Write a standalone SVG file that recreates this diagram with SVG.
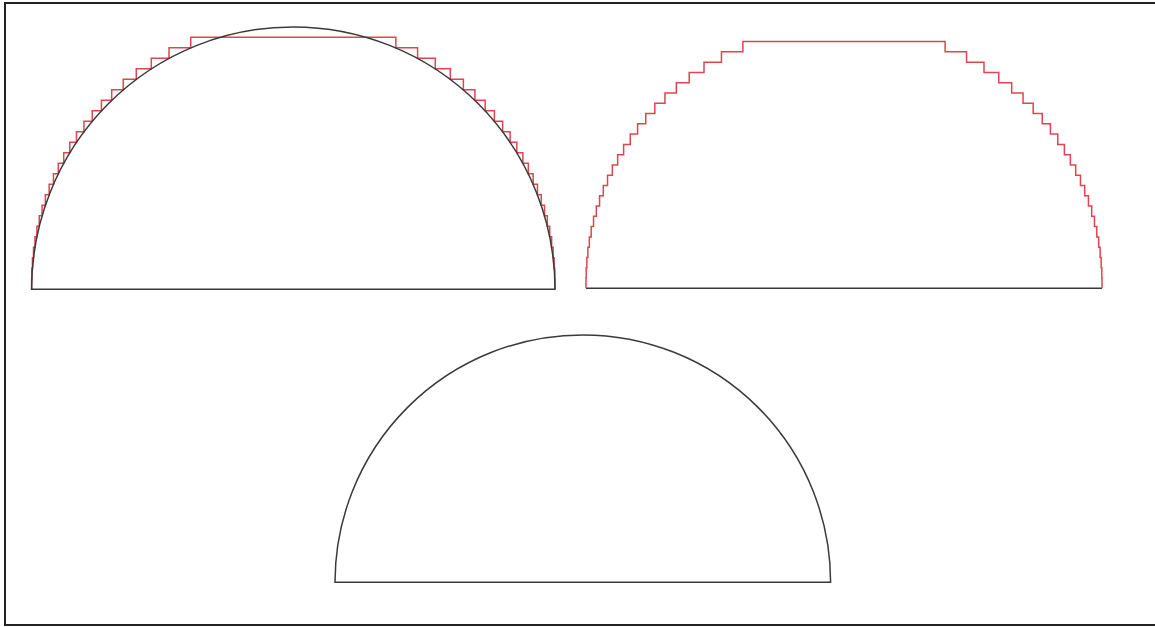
<svg xmlns="http://www.w3.org/2000/svg" width="1155" height="627" viewBox="0 0 1155 627">
  <style>
    .frame { fill: none; stroke: #222; stroke-width: 2; }
    .arc { fill: none; stroke: #3a3a3a; stroke-width: 1.5; }
    .stair { fill: none; stroke: #e0454f; stroke-width: 1.5; }
  </style>
  <rect x="0" y="0" width="1155" height="627" fill="#ffffff"/>
  <g id="frame">
    <path class="frame" d="M5,626 V3 H1155"/>
    <path class="frame" d="M5,625 H1155" stroke="#555" stroke-width="1.5"/>
  </g>
  <g id="top-left">
    <path class="stair" d="M31.6,289.3 V278.8 H31.81 V268.3 H32.44 V257.8 H33.49 V247.3 H34.97 V236.8 H36.89 V226.3 H39.25 V215.8 H42.07 V205.3 H45.36 V194.8 H49.15 V184.3 H53.45 V173.8 H58.29 V163.3 H63.72 V152.8 H69.76 V142.3 H76.48 V131.8 H83.94 V121.3 H92.22 V110.8 H101.42 V100.3 H111.69 V89.8 H123.22 V79.3 H136.28 V68.8 H151.3 V58.3 H169 V47.8 H190.73 V37.3 H395.87 V47.8 H417.6 V58.3 H435.3 V68.8 H450.32 V79.3 H463.38 V89.8 H474.91 V100.3 H485.18 V110.8 H494.38 V121.3 H502.66 V131.8 H510.12 V142.3 H516.84 V152.8 H522.88 V163.3 H528.31 V173.8 H533.15 V184.3 H537.45 V194.8 H541.24 V205.3 H544.53 V215.8 H547.35 V226.3 H549.71 V236.8 H551.63 V247.3 H553.11 V257.8 H554.16 V268.3 H554.79 V278.8 H555 V289.3"/>
    <path class="arc" d="M31.6,289.3 A261.7,262.5 0 0 1 555,289.3 Z"/>
  </g>
  <g id="top-right">
    <path class="arc" d="M586,288.3 H1102"/>
    <path class="stair" d="M586,288.3 V278.02 H586.21 V267.74 H586.83 V257.46 H587.87 V247.18 H589.33 V236.9 H591.21 V226.62 H593.54 V216.34 H596.32 V206.06 H599.57 V195.78 H603.3 V185.5 H607.54 V175.22 H612.32 V164.94 H617.66 V154.66 H623.62 V144.38 H630.25 V134.1 H637.6 V123.82 H645.76 V113.54 H654.83 V103.26 H664.96 V92.98 H676.32 V82.7 H689.2 V72.42 H704.01 V62.14 H721.46 V51.86 H742.88 V41.58 H945.12 V51.86 H966.54 V62.14 H983.99 V72.42 H998.8 V82.7 H1011.68 V92.98 H1023.04 V103.26 H1033.17 V113.54 H1042.24 V123.82 H1050.4 V134.1 H1057.75 V144.38 H1064.38 V154.66 H1070.34 V164.94 H1075.68 V175.22 H1080.46 V185.5 H1084.7 V195.78 H1088.43 V206.06 H1091.68 V216.34 H1094.46 V226.62 H1096.79 V236.9 H1098.67 V247.18 H1100.13 V257.46 H1101.17 V267.74 H1101.79 V278.02 H1102 V288.3"/>
  </g>
  <g id="bottom">
    <path class="arc" d="M335,582.3 A247.8,247.5 0 0 1 830.6,582.3 Z"/>
  </g>
  <g id="connectors"/>
</svg>
